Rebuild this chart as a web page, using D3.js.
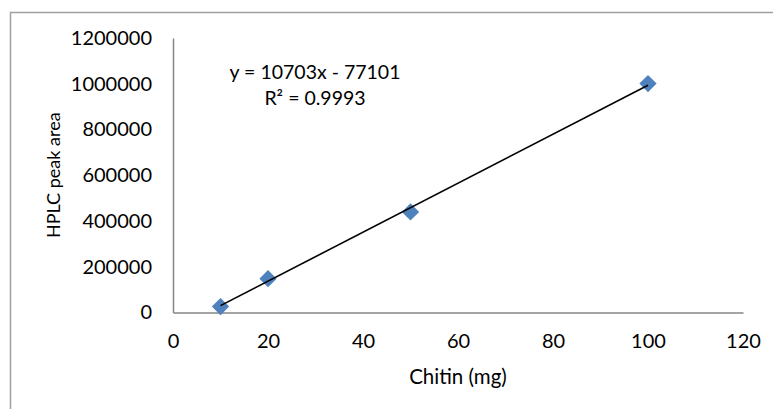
<!DOCTYPE html>
<html>
<head>
<meta charset="utf-8">
<script src="https://cdn.jsdelivr.net/npm/d3@7"></script>
<style>
  body { margin: 0; background: #fff; }
  text { font-family: Lato, "Open Sans", sans-serif; fill: #000; }
</style>
</head>
<body>
<div id="chart"></div>
<script>
const chitin = [10, 20, 50, 100];
const peakArea = [26000, 147600, 439500, 1001000];
const xTicks = [0, 20, 40, 60, 80, 100, 120];
const yTicks = [0, 200000, 400000, 600000, 800000, 1000000, 1200000];
const slope = 10703, intercept = -77101;
const eqLines = ['y = 10703x - 77101', 'R² = 0.9993'];

const W = 773, H = 409;
const svg = d3.select('#chart').append('svg').attr('width', W).attr('height', H);

// chart border (runs off the bottom/right)
svg.append('rect').attr('x', 10.5).attr('y', 12.5).attr('width', 800).attr('height', 420)
  .attr('fill', 'none').attr('stroke', '#a0a0a0').attr('stroke-width', 1.5);

const x = d3.scaleLinear().domain([0, 120]).range([173, 743]);
const y = d3.scaleLinear().domain([0, 1200000]).range([312.5, 38]);

const xAxis = svg.append('g').attr('transform', `translate(0,${y(0)})`)
  .call(d3.axisBottom(x).tickValues(xTicks).tickSize(0).tickPadding(21).tickFormat(d3.format('d')));
const yAxis = svg.append('g').attr('transform', `translate(${x(0)},0)`)
  .call(d3.axisLeft(y).tickValues(yTicks).tickSize(0).tickPadding(21).tickFormat(d3.format('d')));
[xAxis, yAxis].forEach(a => {
  a.select('.domain').attr('stroke', '#868686').attr('stroke-width', 1.5);
  a.selectAll('text').attr('font-size', 20).attr('font-family', 'Lato');
});

svg.append('text').attr('x', (x(0) + x(120)) / 2).attr('y', 377).attr('dy', '0.35em')
  .attr('text-anchor', 'middle').attr('font-size', 20.5).text('Chitin (mg)');
svg.append('text').attr('transform', `translate(54,${(y(0) + y(1200000)) / 2}) rotate(-90)`)
  .attr('dy', '0.35em').attr('text-anchor', 'middle').attr('font-size', 18).text('HPLC peak area');

const pts = chitin.map((c, i) => ({ c, v: peakArea[i] }));
const xr = d3.extent(chitin);

svg.selectAll('.pt').data(pts).join('path').attr('class', 'pt')
  .attr('d', d3.symbol(d3.symbolDiamond2, 190))
  .attr('transform', d => `translate(${x(d.c)},${y(d.v)})`)
  .attr('fill', '#4f81bd');

// trendline on top of the markers
svg.append('line')
  .attr('x1', x(xr[0])).attr('y1', y(slope * xr[0] + intercept))
  .attr('x2', x(xr[1])).attr('y2', y(slope * xr[1] + intercept))
  .attr('stroke', '#000').attr('stroke-width', 1.6);

svg.selectAll('.eq').data(eqLines).join('text').attr('class', 'eq')
  .attr('x', 315).attr('y', (d, i) => 72 + i * 26).attr('dy', '0.35em')
  .attr('text-anchor', 'middle').attr('font-size', 19.5).text(d => d);
</script>
</body>
</html>
